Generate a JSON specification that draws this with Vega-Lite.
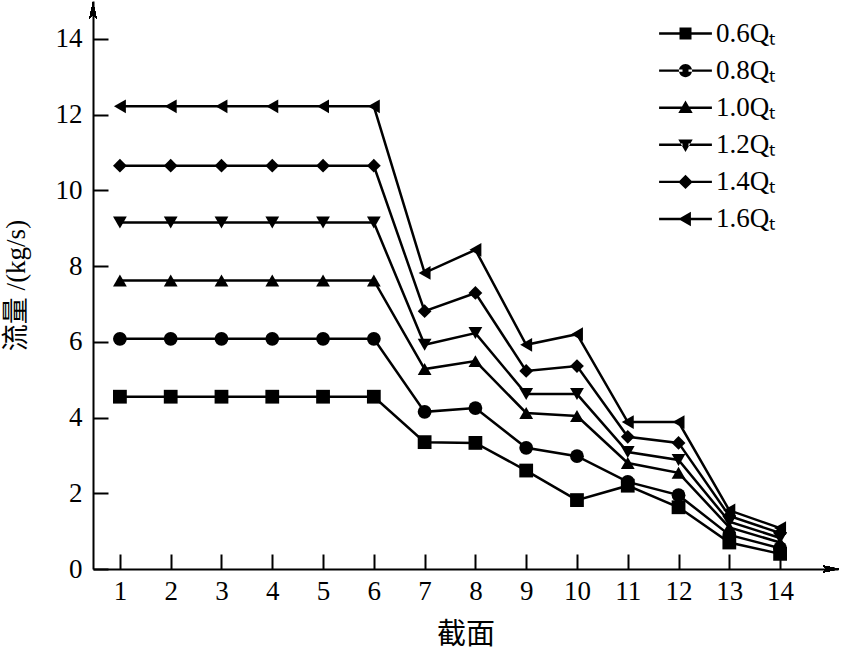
{
  "$schema": "https://vega.github.io/schema/vega-lite/v6.json",
  "autosize": "none",
  "width": 745,
  "height": 568,
  "padding": {"left": 93, "top": 1, "right": 15, "bottom": 82},
  "background": "white",
  "config": {
    "view": {"stroke": null},
    "font": "Liberation Serif",
    "axis": {"grid": false, "domainColor": "black", "domainWidth": 2, "tickColor": "black", "tickWidth": 2, "labelColor": "black", "titleColor": "black", "labelFont": "Liberation Serif", "labelFontSize": 27, "titleFont": "Liberation Serif, Noto Sans CJK SC", "titleFontWeight": "normal"}
  },
  "datasets": {
    "flow": [
      {"s": "0.6Qₜ", "x": 1, "y": 4.55}, {"s": "0.6Qₜ", "x": 2, "y": 4.55}, {"s": "0.6Qₜ", "x": 3, "y": 4.55}, {"s": "0.6Qₜ", "x": 4, "y": 4.55}, {"s": "0.6Qₜ", "x": 5, "y": 4.55}, {"s": "0.6Qₜ", "x": 6, "y": 4.55}, {"s": "0.6Qₜ", "x": 7, "y": 3.35}, {"s": "0.6Qₜ", "x": 8, "y": 3.33}, {"s": "0.6Qₜ", "x": 9, "y": 2.6}, {"s": "0.6Qₜ", "x": 10, "y": 1.82}, {"s": "0.6Qₜ", "x": 11, "y": 2.2}, {"s": "0.6Qₜ", "x": 12, "y": 1.63}, {"s": "0.6Qₜ", "x": 13, "y": 0.7}, {"s": "0.6Qₜ", "x": 14, "y": 0.4},
      {"s": "0.8Qₜ", "x": 1, "y": 6.08}, {"s": "0.8Qₜ", "x": 2, "y": 6.08}, {"s": "0.8Qₜ", "x": 3, "y": 6.08}, {"s": "0.8Qₜ", "x": 4, "y": 6.08}, {"s": "0.8Qₜ", "x": 5, "y": 6.08}, {"s": "0.8Qₜ", "x": 6, "y": 6.08}, {"s": "0.8Qₜ", "x": 7, "y": 4.15}, {"s": "0.8Qₜ", "x": 8, "y": 4.25}, {"s": "0.8Qₜ", "x": 9, "y": 3.2}, {"s": "0.8Qₜ", "x": 10, "y": 2.98}, {"s": "0.8Qₜ", "x": 11, "y": 2.3}, {"s": "0.8Qₜ", "x": 12, "y": 1.95}, {"s": "0.8Qₜ", "x": 13, "y": 0.9}, {"s": "0.8Qₜ", "x": 14, "y": 0.55},
      {"s": "1.0Qₜ", "x": 1, "y": 7.62}, {"s": "1.0Qₜ", "x": 2, "y": 7.62}, {"s": "1.0Qₜ", "x": 3, "y": 7.62}, {"s": "1.0Qₜ", "x": 4, "y": 7.62}, {"s": "1.0Qₜ", "x": 5, "y": 7.62}, {"s": "1.0Qₜ", "x": 6, "y": 7.62}, {"s": "1.0Qₜ", "x": 7, "y": 5.28}, {"s": "1.0Qₜ", "x": 8, "y": 5.49}, {"s": "1.0Qₜ", "x": 9, "y": 4.12}, {"s": "1.0Qₜ", "x": 10, "y": 4.04}, {"s": "1.0Qₜ", "x": 11, "y": 2.8}, {"s": "1.0Qₜ", "x": 12, "y": 2.54}, {"s": "1.0Qₜ", "x": 13, "y": 1.1}, {"s": "1.0Qₜ", "x": 14, "y": 0.7},
      {"s": "1.2Qₜ", "x": 1, "y": 9.15}, {"s": "1.2Qₜ", "x": 2, "y": 9.15}, {"s": "1.2Qₜ", "x": 3, "y": 9.15}, {"s": "1.2Qₜ", "x": 4, "y": 9.15}, {"s": "1.2Qₜ", "x": 5, "y": 9.15}, {"s": "1.2Qₜ", "x": 6, "y": 9.15}, {"s": "1.2Qₜ", "x": 7, "y": 5.92}, {"s": "1.2Qₜ", "x": 8, "y": 6.23}, {"s": "1.2Qₜ", "x": 9, "y": 4.62}, {"s": "1.2Qₜ", "x": 10, "y": 4.62}, {"s": "1.2Qₜ", "x": 11, "y": 3.09}, {"s": "1.2Qₜ", "x": 12, "y": 2.88}, {"s": "1.2Qₜ", "x": 13, "y": 1.25}, {"s": "1.2Qₜ", "x": 14, "y": 0.82},
      {"s": "1.4Qₜ", "x": 1, "y": 10.65}, {"s": "1.4Qₜ", "x": 2, "y": 10.65}, {"s": "1.4Qₜ", "x": 3, "y": 10.65}, {"s": "1.4Qₜ", "x": 4, "y": 10.65}, {"s": "1.4Qₜ", "x": 5, "y": 10.65}, {"s": "1.4Qₜ", "x": 6, "y": 10.65}, {"s": "1.4Qₜ", "x": 7, "y": 6.81}, {"s": "1.4Qₜ", "x": 8, "y": 7.29}, {"s": "1.4Qₜ", "x": 9, "y": 5.23}, {"s": "1.4Qₜ", "x": 10, "y": 5.36}, {"s": "1.4Qₜ", "x": 11, "y": 3.49}, {"s": "1.4Qₜ", "x": 12, "y": 3.33}, {"s": "1.4Qₜ", "x": 13, "y": 1.4}, {"s": "1.4Qₜ", "x": 14, "y": 0.95},
      {"s": "1.6Qₜ", "x": 1, "y": 12.22}, {"s": "1.6Qₜ", "x": 2, "y": 12.22}, {"s": "1.6Qₜ", "x": 3, "y": 12.22}, {"s": "1.6Qₜ", "x": 4, "y": 12.22}, {"s": "1.6Qₜ", "x": 5, "y": 12.22}, {"s": "1.6Qₜ", "x": 6, "y": 12.22}, {"s": "1.6Qₜ", "x": 7, "y": 7.82}, {"s": "1.6Qₜ", "x": 8, "y": 8.43}, {"s": "1.6Qₜ", "x": 9, "y": 5.92}, {"s": "1.6Qₜ", "x": 10, "y": 6.2}, {"s": "1.6Qₜ", "x": 11, "y": 3.88}, {"s": "1.6Qₜ", "x": 12, "y": 3.88}, {"s": "1.6Qₜ", "x": 13, "y": 1.55}, {"s": "1.6Qₜ", "x": 14, "y": 1.08}
    ]
  },
  "data": {"name": "flow"},
  "encoding": {
    "x": {"field": "x", "type": "quantitative", "scale": {"domain": [0.47, 15.14], "nice": false, "zero": false},
      "axis": {"values": [1,2,3,4,5,6,7,8,9,10,11,12,13,14], "tickSize": -15, "labelPadding": 24, "title": "截面", "titleFontSize": 29, "titlePadding": 16}},
    "y": {"field": "y", "type": "quantitative", "scale": {"domain": [0, 15], "nice": false},
      "axis": {"values": [0,2,4,6,8,10,12,14], "tickSize": -15, "labelPadding": 26, "title": "流量 /(kg/s)", "titleFontSize": 27, "titlePadding": 25}}
  },
  "layer": [
    {"mark": {"type": "line", "color": "black", "strokeWidth": 2.5},
     "encoding": {"detail": {"field": "s"}}},
    {"mark": {"type": "point", "filled": true, "color": "black", "opacity": 1, "size": 190},
     "encoding": {"shape": {"field": "s", "type": "nominal",
       "scale": {"domain": ["0.6Qₜ","0.8Qₜ","1.0Qₜ","1.2Qₜ","1.4Qₜ","1.6Qₜ"], "range": ["square","circle","triangle-up","triangle-down","diamond","triangle-left"]},
       "legend": null}}},
    {"mark": {"type": "point", "filled": true, "color": "black", "opacity": 0, "size": 144},
     "encoding": {"shape": {"field": "s", "type": "nominal",
       "scale": {"domain": ["0.6Qₜ","0.8Qₜ","1.0Qₜ","1.2Qₜ","1.4Qₜ","1.6Qₜ"], "range": [
         "M-4.4,-0.2H-0.5V0.2H-4.4ZM0.5,-0.2H4.4V0.2H0.5ZM-1,-1H1V1H-1Z",
         "M-4.4,-0.2H-0.5V0.2H-4.4ZM0.5,-0.2H4.4V0.2H0.5ZM-1.1,0A1.1,1.1,0,1,0,1.1,0A1.1,1.1,0,1,0,-1.1,0Z",
         "M-4.4,-0.2H-0.5V0.2H-4.4ZM0.5,-0.2H4.4V0.2H0.5ZM0,-1.2L1.2,0.9L-1.2,0.9Z",
         "M-4.4,-0.2H-0.5V0.2H-4.4ZM0.5,-0.2H4.4V0.2H0.5ZM0,1.2L1.2,-0.9L-1.2,-0.9Z",
         "M-4.4,-0.2H-0.5V0.2H-4.4ZM0.5,-0.2H4.4V0.2H0.5ZM0,-1.2L1.2,0L0,1.2L-1.2,0Z",
         "M-4.4,-0.2H-0.5V0.2H-4.4ZM0.5,-0.2H4.4V0.2H0.5ZM-1.2,0L0.9,-1.2L0.9,1.2Z"]},
       "legend": {"title": null, "orient": "none", "legendX": 579, "legendY": 19, "padding": 0, "symbolSize": 144, "symbolOpacity": 1, "symbolFillColor": "black", "symbolStrokeColor": "black", "symbolStrokeWidth": 0, "labelFont": "Liberation Serif", "labelFontSize": 27, "labelColor": "black", "labelOffset": 17, "rowPadding": 9.1}}}},
    {"mark": {"type": "point", "filled": true, "color": "black", "size": 256, "shape": "M-1,-0.45L1,0L-1,0.45L-0.5,0Z"},
     "encoding": {"x": {"datum": 15.0}, "y": {"datum": 0}}},
    {"mark": {"type": "point", "filled": true, "color": "black", "size": 256, "shape": "M-0.45,1L0,-1L0.45,1L0,0.5Z"},
     "encoding": {"x": {"datum": 0.47}, "y": {"datum": 14.75}}}
  ],
  "resolve": {"scale": {"shape": "independent"}}
}
